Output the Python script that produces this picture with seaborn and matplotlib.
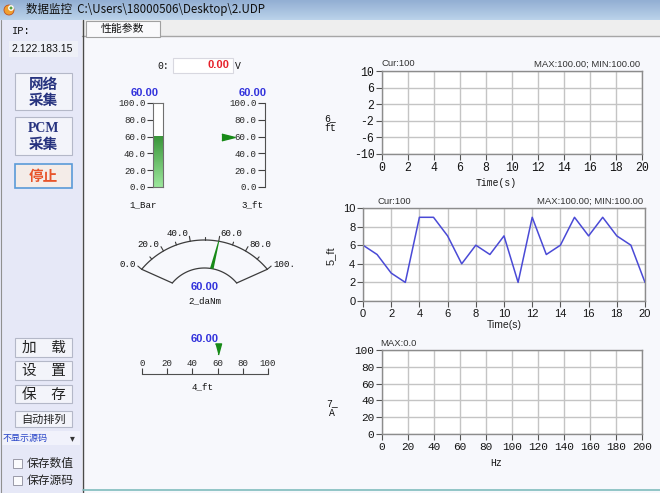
"""
性能参数 panel of the data monitor, rebuilt with seaborn / matplotlib
"""
import numpy as np
import matplotlib
matplotlib.use("Agg")
import matplotlib.pyplot as plt
import matplotlib.patches as mpatches
import matplotlib.transforms as mtransforms
from matplotlib.colors import LinearSegmentedColormap
import seaborn as sns

# ─ Data ─────────────────────────────────────────────────────────────────── #
WINDOW_TITLE = "数据监控"
FILE_PATH = "C:\\Users\\18000506\\Desktop\\2.UDP"
IP_LABEL = "IP:"
IP_ADDR = "2.122.183.15"
TAB_NAME = "性能参数"
TOP_BUTTONS = [["网络", "采集"], ["PCM", "采集"], ["停止"]]
LOW_BUTTONS = ["加\u3000载", "设\u3000置", "保\u3000存", "自动排列"]
COMBO_TEXT = "不显示源码"
CHECK_LABELS = ["保存数值", "保存源码"]

VOLT_LABEL = "0:"
VOLT_VALUE = 0.00
VOLT_UNIT = "V"

GAUGE_TICKS = [0, 20, 40, 60, 80, 100]
DIAL_MINOR = [10, 30, 50, 70, 90]
BAR_VALUE = 60.0        # 1_Bar
POINTER_VALUE = 60.0    # 3_ft
DIAL_VALUE = 60.0       # 2_daNm
LINEAR_VALUE = 60.0     # 4_ft
GAUGE_NAMES = ["1_Bar", "3_ft", "2_daNm", "4_ft"]

time_s = list(range(0, 21))
ft5 = [6, 5, 3, 2, 9, 9, 7, 4, 6, 5, 7, 2, 9, 5, 6, 9, 7, 9, 7, 6, 2]
time_ticks = list(range(0, 21, 2))
ft6_ticks = [-10, -6, -2, 2, 6, 10]
ft5_ticks = [0, 2, 4, 6, 8, 10]
hz_ticks = list(range(0, 201, 20))
a7_ticks = list(range(0, 101, 20))
CUR_TEXT = "Cur:100"
MAXMIN_TEXT = "MAX:100.00; MIN:100.00"
SPEC_MAX_TEXT = "MAX:0.0"

# ─ Style ────────────────────────────────────────────────────────────────── #
sns.set_style("white")
CJK = ["Noto Sans CJK SC", "DejaVu Sans"]
MONO = ["Liberation Mono", "DejaVu Sans Mono"]
SANS = ["Liberation Sans", "DejaVu Sans"]
SERIF = ["Liberation Serif", "DejaVu Serif"]
plt.rcParams["font.family"] = CJK
plt.rcParams["axes.unicode_minus"] = False

CONTENT_BG = "#f7f8fc"
PANEL_BG = "#e6e8f7"
GRID = "#c4c4c4"
VALUE_BLUE = "#3232dc"
NEEDLE_GREEN = "#178a17"
LINE_BLUE = "#4a4ad6"
BTN_TEXT = "#27337f"

W, H = 660, 493
fig = plt.figure(figsize=(W / 100, H / 100), dpi=100, facecolor=CONTENT_BG)


def px_axes(x0, y0, x1, y1):
    return fig.add_axes([x0 / W, 1 - y1 / H, (x1 - x0) / W, (y1 - y0) / H])


ui = px_axes(0, 0, W, H)
ui.axis("off")


def box(x0, y0, x1, y1, face, edge="none", lw=0.8, z=1):
    ui.add_patch(mpatches.Rectangle((x0, y0), x1 - x0, y1 - y0, facecolor=face,
                                    edgecolor=edge, linewidth=lw, zorder=z))


def txt(x, y, s, size, family=CJK, color="#111111", ha="center", va="center", **kw):
    ui.text(x, y, s, fontsize=size, family=family, color=color, ha=ha, va=va, zorder=5, **kw)


# ─ Window chrome ────────────────────────────────────────────────────────── #
title_cmap = LinearSegmentedColormap.from_list("title", ["#93afd3", "#bad2ea"])
ui.imshow(np.linspace(0, 1, 20).reshape(-1, 1), extent=(0, W, 20, 0), cmap=title_cmap,
          aspect="auto", zorder=0)
ui.add_patch(mpatches.Circle((9, 10), 5, facecolor="#f0a030", edgecolor="#c05020", lw=0.6, zorder=2))
ui.add_patch(mpatches.Circle((11, 8), 2.2, facecolor="#5aa040", zorder=3))
txt(26, 10, WINDOW_TITLE + "  " + FILE_PATH, 8.3, ha="left", color="#101010")

box(0, 20, 82, H, PANEL_BG)
box(82, 20, W, 36, "#eeeeee")
ui.plot([82, W], [36, 36], color="#a6a6a6", lw=1, zorder=2)
box(86, 21, 160, 36.5, "#f9f9fb", edge="#a0a0a0", lw=0.8, z=3)
txt(122, 28.5, TAB_NAME, 7.8)
ui.plot([82.5, 82.5], [20, H], color="#4a4a4a", lw=1, zorder=4)
ui.plot([83, W], [490, 490], color="#7fbdbd", lw=1.2, zorder=4)
ui.plot([0.5, 0.5], [20, H], color="#909090", lw=0.8, zorder=4)

# ─ Left panel ───────────────────────────────────────────────────────────── #
txt(12, 31, IP_LABEL, 7.5, family=MONO, ha="left")
box(9, 41, 78, 57, "#eef0f7")
txt(12, 49.5, IP_ADDR, 7.6, family=SANS, ha="left")

btn_rows = [(73, 110), (117, 155), (164, 188)]
for (y0, y1), lines in zip(btn_rows, TOP_BUTTONS):
    stop = lines == ["停止"]
    box(15, y0, 72, y1, "#f3f4fa" if not stop else "#f4ece8",
        edge="#5a9ad8" if stop else "#b4b8c8", lw=1.2 if stop else 0.8, z=2)
    yc = (y0 + y1) / 2
    offs = [0] if len(lines) == 1 else [-7.5, 8]
    for line, dy in zip(lines, offs):
        fam = SERIF if line.isascii() else CJK
        txt(43.5, yc + dy, line, 10 if line.isascii() else 10.5, family=fam,
            color="#e8542a" if stop else BTN_TEXT, weight="bold", linespacing=0.9)

low_rows = [(338, 357), (361, 380), (385, 403), (411, 427)]
for (y0, y1), label in zip(low_rows, LOW_BUTTONS):
    box(15, y0, 72, y1, "#f3f4fa", edge="#b4b8c8", z=2)
    txt(43.5, (y0 + y1) / 2 + 0.5, label, 8 if label == "自动排列" else 10.5, color="#222222")

box(2, 431, 80, 445, "#f1f2fb")
txt(3, 438, COMBO_TEXT, 6.5, ha="left", color="#2a46c8")
txt(72, 438.5, "▾", 7, family=["DejaVu Sans"], color="#333333")
for yc, label in zip([463.5, 480.5], CHECK_LABELS):
    box(13, yc - 4.5, 22, yc + 4.5, "#fbfbfd", edge="#9a9aa8", lw=0.7, z=2)
    txt(27, yc, label, 8.5, ha="left", color="#222222")

# ─ Voltage box ──────────────────────────────────────────────────────────── #
txt(163, 66, VOLT_LABEL, 7, family=MONO)
box(173, 57.5, 232.5, 73, "white", edge="#d8d8e0", lw=0.8, z=2)
txt(229, 65.5, f"{VOLT_VALUE:.2f}", 8, family=SANS, color="#e6202a", ha="right", weight="bold")
txt(238, 66, VOLT_UNIT, 7, family=MONO)

TRI_RIGHT = [(-1, -0.5), (1, 0), (-1, 0.5)]
TRI_DOWN = [(-0.55, 1), (0.55, 1), (0, -1)]
GAUGE_FS = 6.6


def style_gauge_labels(ax, axis):
    labs = ax.get_yticklabels() if axis == "y" else ax.get_xticklabels()
    for lab in labs:
        lab.set_family(MONO)


# ─ 1_Bar: vertical bar gauge ────────────────────────────────────────────── #
g1 = px_axes(153, 103, 163, 187)
green = LinearSegmentedColormap.from_list("bar", ["#9ce79c", "#3a963a"])
g1.imshow(np.linspace(0, 1, 64).reshape(-1, 1), extent=(0, 1, 0, BAR_VALUE), origin="lower",
          cmap=green, aspect="auto")
g1.set_facecolor("white")
g1.set_xlim(0, 1)
g1.set_ylim(0, 100)
g1.set_xticks([])
g1.set_yticks(GAUGE_TICKS, [f"{v:.1f}" for v in GAUGE_TICKS])
g1.tick_params(axis="y", left=True, length=4, width=0.8, pad=1, labelsize=GAUGE_FS, color="#404040")
style_gauge_labels(g1, "y")
for s in g1.spines.values():
    s.set_color("#707070")
    s.set_linewidth(0.8)
txt(145, 93.5, f"{BAR_VALUE:.2f}", 8, family=SANS, color=VALUE_BLUE, weight="bold")
txt(143, 205, GAUGE_NAMES[0], GAUGE_FS, family=MONO)

# ─ 3_ft: pointer gauge ──────────────────────────────────────────────────── #
g3 = px_axes(265, 103, 266, 187)
g3.set_facecolor("none")
g3.set_xlim(0, 1)
g3.set_ylim(0, 100)
g3.set_xticks([])
g3.set_yticks(GAUGE_TICKS, [f"{v:.1f}" for v in GAUGE_TICKS])
g3.tick_params(axis="y", left=True, length=5, width=0.8, pad=1, labelsize=GAUGE_FS, color="#404040")
style_gauge_labels(g3, "y")
for name, s in g3.spines.items():
    s.set_visible(name == "left")
    s.set_color("#505050")
g3.plot([0], [POINTER_VALUE], marker=TRI_RIGHT, ms=9.5, color=NEEDLE_GREEN, clip_on=False,
        transform=mtransforms.offset_copy(g3.transData, fig=fig, x=-37, y=0, units="dots"))
txt(253, 93.5, f"{POINTER_VALUE:.2f}", 8, family=SANS, color=VALUE_BLUE, weight="bold")
txt(252, 205, GAUGE_NAMES[1], GAUGE_FS, family=MONO)

# ─ 2_daNm: dial gauge ───────────────────────────────────────────────────── #
CX, CY_OUT, R_OUT = 204.5, 322.0, 82.0
CY_IN, R_IN = 310.0, 42.0


def dial_angle(v):
    return np.deg2rad(140.0 - v)


def on_arc(v, r, cy):
    a = dial_angle(v)
    return CX + r * np.cos(a), cy - r * np.sin(a)


sweep = np.linspace(0, 100, 120)
ox, oy = on_arc(sweep, R_OUT, CY_OUT)
ix, iy = on_arc(sweep, R_IN, CY_IN)
ui.plot(ox, oy, color="#3c3c3c", lw=0.9, zorder=4)
ui.plot(ix, iy, color="#3c3c3c", lw=0.9, zorder=4)
for end in (0, 100):
    p0, p1 = on_arc(end, R_OUT, CY_OUT), on_arc(end, R_IN, CY_IN)
    ui.plot([p0[0], p1[0]], [p0[1], p1[1]], color="#3c3c3c", lw=0.9, zorder=4)
for v in GAUGE_TICKS + DIAL_MINOR:
    ln = 5 if v in GAUGE_TICKS else 3
    a0, a1 = on_arc(v, R_OUT, CY_OUT), on_arc(v, R_OUT + ln, CY_OUT)
    ui.plot([a0[0], a1[0]], [a0[1], a1[1]], color="#3c3c3c", lw=0.8, zorder=4)
for v in GAUGE_TICKS:
    lx, ly = on_arc(v, R_OUT + 8, CY_OUT)
    ha = "left" if v > 50 else "right"
    txt(lx, ly, f"{v:.1f}"[:4], GAUGE_FS, family=MONO, ha=ha)
# needle
base = np.array(on_arc(DIAL_VALUE, R_IN, CY_IN))
tip = np.array(on_arc(DIAL_VALUE, R_OUT, CY_OUT))
d = (tip - base) / np.linalg.norm(tip - base)
nrm = np.array([-d[1], d[0]])
needle = [base + 1.8 * nrm, tip + 0.5 * nrm, tip - 0.5 * nrm, base - 1.8 * nrm]
ui.add_patch(mpatches.Polygon(needle, closed=True, facecolor=NEEDLE_GREEN, edgecolor="none", zorder=6))
txt(204.5, 287.5, f"{DIAL_VALUE:.2f}", 8, family=SANS, color=VALUE_BLUE, weight="bold")
txt(204.5, 301, GAUGE_NAMES[2], GAUGE_FS, family=MONO)

# ─ 4_ft: linear gauge ───────────────────────────────────────────────────── #
g4 = px_axes(142, 372.5, 268, 373.5)
g4.set_facecolor("none")
g4.set_xlim(0, 100)
g4.set_ylim(0, 1)
g4.set_yticks([])
g4.set_xticks(GAUGE_TICKS, [str(v) for v in GAUGE_TICKS])
g4.tick_params(axis="x", bottom=True, top=False, labelbottom=False, labeltop=True,
               direction="in", length=4, width=0.8, pad=3.5, labelsize=GAUGE_FS, color="#404040")
style_gauge_labels(g4, "x")
for name, s in g4.spines.items():
    s.set_visible(name == "bottom")
    s.set_color("#505050")
g4.plot([LINEAR_VALUE], [0], marker=TRI_DOWN, ms=8, color=NEEDLE_GREEN, clip_on=False,
        transform=mtransforms.offset_copy(g4.transData, fig=fig, x=0, y=25, units="dots"))
txt(205, 339.5, f"{LINEAR_VALUE:.2f}", 8, family=SANS, color=VALUE_BLUE, weight="bold")
txt(203, 386.5, GAUGE_NAMES[3], GAUGE_FS, family=MONO)


# ─ Trend charts ─────────────────────────────────────────────────────────── #
def chart(rect, xlim, ylim, xticks, yticks, family, size):
    ax = px_axes(*rect)
    ax.set_facecolor("white")
    ax.set_axisbelow(True)
    ax.set_xlim(*xlim)
    ax.set_ylim(*ylim)
    ax.set_xticks(xticks)
    ax.set_yticks(yticks)
    ax.grid(True, color=GRID, linewidth=1.0)
    for s in ax.spines.values():
        s.set_color("#8c8c8c")
        s.set_linewidth(1.0)
    ax.tick_params(bottom=True, left=True, length=4, width=0.8, color="#555555", pad=1.5,
                   labelsize=size, labelcolor="#141414")
    for lab in ax.get_xticklabels() + ax.get_yticklabels():
        lab.set_family(family)
    return ax


ax6 = chart((382, 71, 642, 154), (0, 20), (-10, 10), time_ticks, ft6_ticks, MONO, 8.3)
txt(382, 64, CUR_TEXT, 6.8, family=SANS, ha="left", color="#333333")
txt(640, 64, MAXMIN_TEXT, 6.8, family=SANS, ha="right", color="#333333")
txt(496, 182.5, "Time(s)", 7, family=MONO)
txt(330, 123, "6_\nft", 7, family=MONO, linespacing=1.05)

ax5 = chart((363, 208, 645, 301), (0, 20), (0, 10), time_ticks, ft5_ticks, SANS, 8)
sns.lineplot(x=time_s, y=ft5, ax=ax5, color=LINE_BLUE, linewidth=1.1)
ax5.set_xlabel("")
ax5.set_ylabel("")
txt(377, 201, CUR_TEXT, 6.8, family=SANS, ha="left", color="#333333")
txt(643, 201, MAXMIN_TEXT, 6.8, family=SANS, ha="right", color="#333333")
txt(504, 325, "Time(s)", 7.5, family=SANS, color="#222222")
txt(331, 256, "5_ft", 8, family=SANS, rotation=90, color="#222222")

ax7 = chart((382, 350, 642, 434), (0, 200), (0, 100), hz_ticks, a7_ticks, MONO, 8)
txt(380, 343.5, SPEC_MAX_TEXT, 6.8, family=SANS, ha="left", color="#333333")
txt(496, 462.5, "Hz", 7, family=MONO)
txt(332, 408, "7_\nA", 7, family=MONO, linespacing=1.05)

ui.set_xlim(0, W)
ui.set_ylim(H, 0)

fig.savefig("out.png", dpi=100, facecolor=fig.get_facecolor())
